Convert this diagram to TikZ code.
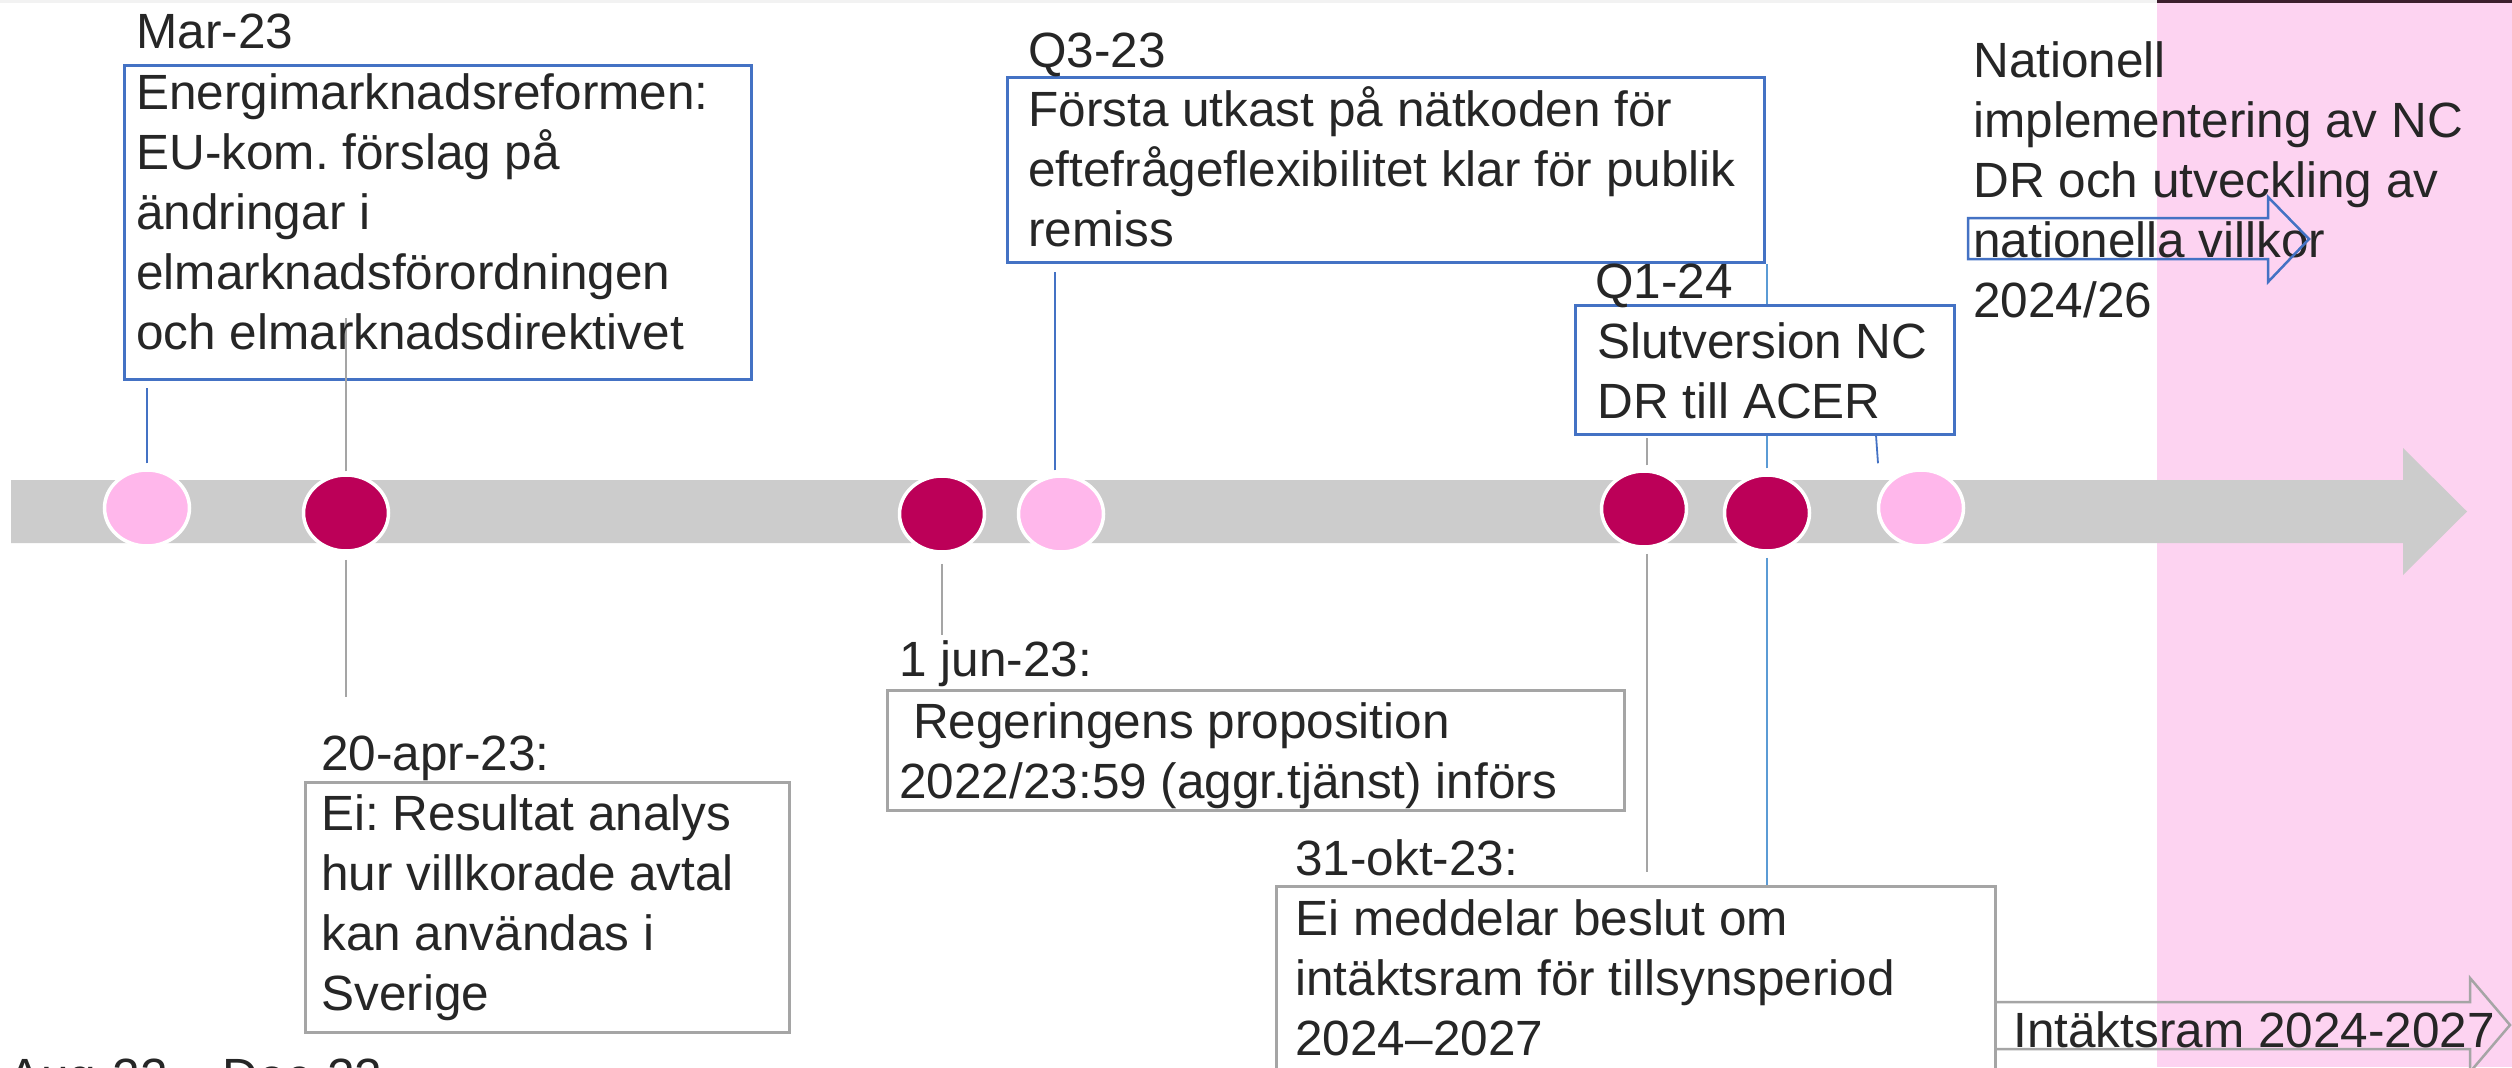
\documentclass[tikz,border=0pt]{standalone}
\usepackage{fontspec}
\setmainfont{Liberation Sans}
\usetikzlibrary{shapes.geometric}
\definecolor{txtcol}{RGB}{38,38,38}
\definecolor{dotdark}{RGB}{188,0,88}
\definecolor{dotpink}{RGB}{255,183,235}
\definecolor{barcol}{RGB}{204,204,204}
\definecolor{boxblue}{RGB}{68,114,196}
\definecolor{lightblue}{RGB}{91,155,213}
\definecolor{boxgray}{RGB}{165,165,165}
\definecolor{pinkbg}{RGB}{253,211,241}
\definecolor{topgray}{RGB}{242,242,242}
\definecolor{topdark}{RGB}{60,30,45}
\newcommand\txtlines[1]{\vtop{\halign{##\hfil\cr#1\crcr}}}
\begin{document}
\frenchspacing
\begin{tikzpicture}[x=0.5pt,y=-0.5pt,
  every node/.style={font=\fontsize{24.75pt}{30pt}\selectfont\frenchspacing, text=txtcol, inner sep=0pt},
  lbl/.style={anchor=base west},
  bluebox/.style={rectangle, draw=boxblue, line width=1.25pt, fill=white, anchor=north west},
  graybox/.style={rectangle, draw=boxgray, line width=1.25pt, fill=white, anchor=north west},
  evdot/.style={ellipse, minimum width=42.5pt, minimum height=38pt, draw=white, line width=1.75pt, fill=#1},
  lnblue/.style={draw=boxblue, line width=0.9pt},
  lnlight/.style={draw=lightblue, line width=0.9pt},
  lngray/.style={draw=boxgray, line width=0.9pt}
]
\useasboundingbox (0,0) rectangle (2512,1067);
\clip (0,0) rectangle (2512,1067);
% background
\fill[white] (0,0) rectangle (2512,1067);
\fill[topgray] (0,0) rectangle (2157,3);
\fill[topdark] (2157,0) rectangle (2512,3);
\fill[pinkbg] (2157,3) rectangle (2512,1067);
% timeline arrow
\fill[barcol] (11,480) -- (2403,480) -- (2403,448) -- (2467,511.5) -- (2403,575) -- (2403,543) -- (11,543) -- cycle;

% event dots
\node[evdot=dotpink] (c1) at (147,508) {};
\node[evdot=dotdark] (c2) at (346,513) {};
\node[evdot=dotdark] (c3) at (942,514) {};
\node[evdot=dotpink] (c4) at (1061,514) {};
\node[evdot=dotdark] (c5) at (1644,509) {};
\node[evdot=dotdark] (c6) at (1767,513) {};
\node[evdot=dotpink] (c7) at (1921,508) {};

% boxes
\node[bluebox, minimum width=378.5pt, minimum height=92.5pt] (q3) at (1006,76) {};
\draw[lnlight, shorten <=2.5pt] (c6.north) -- (c6.north |- q3.south);
\node[bluebox, minimum width=189.5pt, minimum height=64.5pt] (q1) at (1574,304) {};
\node[bluebox, minimum width=313.5pt, minimum height=157pt] (box1) at (123,64) {};
\node[graybox, minimum width=242pt, minimum height=125pt] (apr) at (304,781) {};
\node[graybox, minimum width=368.5pt, minimum height=60pt] (jun) at (886,689) {};
\node[graybox, minimum width=359.5pt, minimum height=125pt] (okt) at (1275,885) {};

% connectors
\coordinate (k2) at (346,318);
\coordinate (k2b) at (346,697);
\coordinate (k3) at (942,635);
\draw[lnblue, shorten <=2.5pt, shorten >=3.5pt] (c1.north) -- (c1.north |- box1.south);
\draw[lngray, shorten <=1pt] (c2.north) -- (k2);
\draw[lngray, shorten <=3.5pt] (c2.south) -- (k2b);
\draw[lngray, shorten <=5pt] (c3.south) -- (k3);
\draw[lnblue, shorten <=2pt, shorten >=4pt] ([xshift=-3pt]c4.north) -- ([xshift=-3pt]c4.north |- q3.south);
\draw[lngray, shorten <=2pt, shorten >=1pt] ([xshift=1.5pt]c5.north) -- ([xshift=1.5pt]c5.north |- q1.south);
\draw[lngray, shorten <=2.5pt, shorten >=6.5pt] ([xshift=1.5pt]c5.south) -- ([xshift=1.5pt]c5.south |- okt.north);
\draw[lnlight, shorten <=2.5pt] (c6.south) -- (c6.south |- okt.north);
\draw[lnblue] ([shift={(-43,-5)}]c7.north) -- ([shift={(-45,-33)}]c7.north);

% texts
\node[lbl] (tmar) at (136,48) {Mar-23};
\node[lbl] (t1) at (136,109) {\txtlines{Energimarknadsreformen:\cr EU-kom. förslag på\cr ändringar i\cr elmarknadsförordningen\cr och elmarknadsdirektivet}};
\node[lbl] (tq3) at (1028,67) {Q3-23};
\node[lbl] (tq3b) at (1028,126) {\txtlines{Första utkast på nätkoden för\cr eftefrågeflexibilitet klar för publik\cr remiss}};
\node[lbl] (tq1) at (1595,298) {Q1-24};
\node[lbl] (tq1b) at (1597,358) {\txtlines{Slutversion NC\cr DR till ACER}};
\node[lbl] (tnat) at (1973,77) {\txtlines{Nationell\cr implementering av NC\cr DR och utveckling av\cr nationella villkor\cr 2024/26}};
\node[lbl] (tapr) at (321,770) {20-apr-23:};
\node[lbl] (taprb) at (321,830) {\txtlines{Ei: Resultat analys\cr hur villkorade avtal\cr kan användas i\cr Sverige}};
\node[lbl] (tjun) at (899,676) {1 jun-23:};
\node[lbl] (tjunb) at (899,738) {\txtlines{\ Regeringens proposition\cr 2022/23:59 (aggr.tjänst) införs}};
\node[lbl] (tokt) at (1295,875) {31-okt-23:};
\node[lbl] (toktb) at (1295,935) {\txtlines{Ei meddelar beslut om\cr intäktsram för tillsynsperiod\cr 2024–2027}};
\node[lbl] (taug) at (8,1093) {Aug-22 – Dec-22};
\node[lbl] (tint) at (2013,1047) {Intäktsram 2024-2027};

% outline arrows
\draw[boxblue, line width=1.25pt, line join=miter] (1968,218) -- (2268,218) -- (2268,197) -- (2309,239) -- (2268,282) -- (2268,259) -- (1968,259) -- cycle;
\draw[boxgray, line width=1.25pt, line join=miter] (okt.north east |- 0,1002) -- (2470,1002) -- (2470,978) -- (2510,1025) -- (2470,1072) -- (2470,1049) -- (okt.north east |- 0,1049);
\end{tikzpicture}
\end{document}
